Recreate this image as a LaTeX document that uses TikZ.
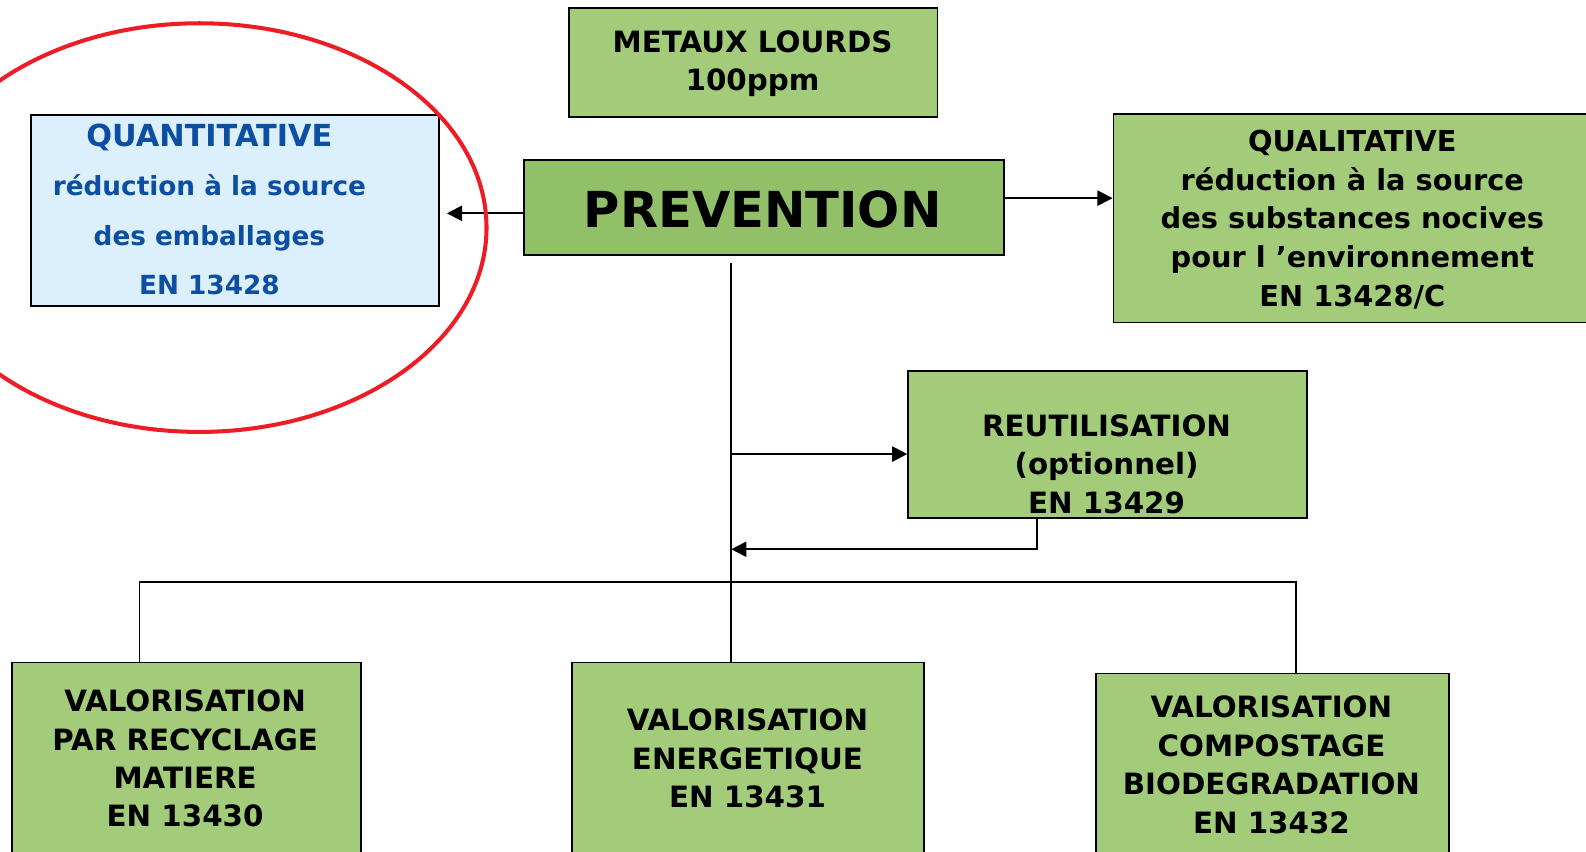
\documentclass[tikz,border=0pt]{standalone}
\usepackage{fontspec}
\setmainfont{DejaVu Sans}
\usetikzlibrary{arrows.meta}
\definecolor{gfill}{HTML}{A3CC7A}
\definecolor{pfill}{HTML}{92C068}
\definecolor{qfill}{HTML}{DCEFFD}
\definecolor{qtext}{HTML}{0B4EA2}
\definecolor{ered}{HTML}{EE1C25}
\begin{document}
\begin{tikzpicture}[x=1pt,y=-1pt,
  box/.style={draw=black, line width=1.8pt, anchor=north west, inner sep=0pt},
  gbox/.style={box, fill=gfill},
  txt/.style={align=center, inner sep=0pt, font=\bfseries\fontsize{29}{38}\selectfont},
  conn/.style={line width=1.9pt},
  arr/.style={conn, -{Triangle[length=15pt,width=15pt]}}]
\useasboundingbox (0,0) rectangle (1568,841.4);
% boxes
\node[gbox, minimum width=364pt, minimum height=108pt] (met) at (562,7) {};
\node[box, fill=pfill, minimum width=475pt, minimum height=94pt] (prev) at (517,157) {};
\node[box, fill=qfill, minimum width=403pt, minimum height=189pt] (quant) at (30,113) {};
\node[gbox, minimum width=520pt, minimum height=206pt] (qual) at (1100,112) {};
\node[gbox, minimum width=394pt, minimum height=145pt] (reut) at (897,366) {};
\node[gbox, minimum width=345pt, minimum height=260pt] (bl) at (11,654) {};
\node[gbox, minimum width=348pt, minimum height=260pt] (mid) at (565,654) {};
\node[gbox, minimum width=349pt, minimum height=250pt] (br) at (1083,665) {};
% texts
\node[txt] (mettext) at (744,63) {METAUX LOURDS\\100ppm};
\node[txt, font=\bfseries\fontsize{49}{58}\selectfont] (prevtext) at (754,207) {PREVENTION};
\node[txt, text=qtext, font=\bfseries\fontsize{26}{48.7}\selectfont] (quanttext) at (207,207)
  {{\fontsize{30}{48.7}\selectfont QUANTITATIVE}\\réduction à la source\\des emballages\\EN 13428};
\node[txt, font=\bfseries\fontsize{28.5}{38.25}\selectfont] (qualtext) at (1337,217)
  {QUALITATIVE\\réduction à la source\\des substances nocives\\pour l ’environnement\\EN 13428/C};
\node[txt] (reuttext) at (1094,459) {REUTILISATION\\(optionnel)\\EN 13429};
\node[txt] (bltext) at (183,750) {VALORISATION\\PAR RECYCLAGE\\MATIERE\\EN 13430};
\node[txt] (midtext) at (739,750) {VALORISATION\\ENERGETIQUE\\EN 13431};
\node[txt] (brtext) at (1257,756) {VALORISATION\\COMPOSTAGE\\BIODEGRADATION\\EN 13432};
% connectors
\coordinate (trunktop) at (723,260);
\coordinate (ret) at (723,543);
\coordinate (bus) at (723,575);
\draw[arr, shorten >=7pt] ([yshift=-6pt]prev.west) -- ([yshift=-6pt]prev.west -| quant.east);
\draw[arr] ([yshift=9pt]prev.east) -- ([yshift=9pt]prev.east -| qual.west);
\draw[conn] (trunktop) -- (trunktop |- mid.north);
\draw[arr] ([yshift=-9.5pt]reut.west -| trunktop) -- ([yshift=-9.5pt]reut.west);
\draw[arr] ([xshift=-70pt]reut.south) |- (ret);
\draw[conn] ([xshift=-46.5pt]bl.north) |- (bus) -| ([xshift=22.5pt]br.north);
% red ellipse
\draw[ered, line width=4pt] (197,225) ellipse [x radius=284pt, y radius=202pt];
\end{tikzpicture}
\end{document}
